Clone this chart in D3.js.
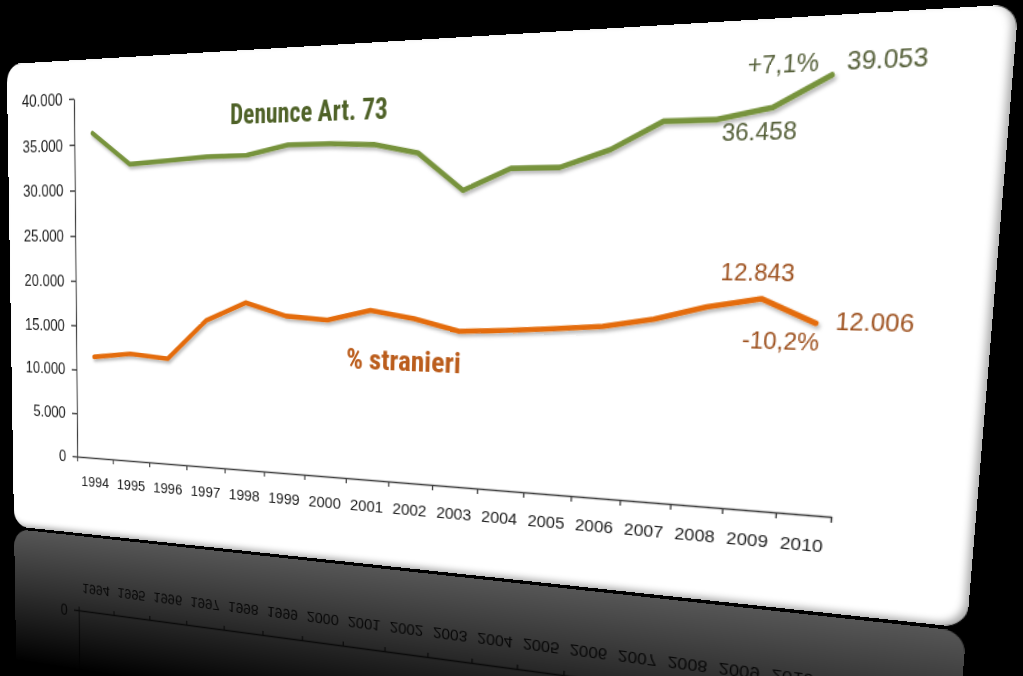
<!DOCTYPE html>
<html><head><meta charset="utf-8">
<script src="https://cdn.jsdelivr.net/npm/d3@7"></script>
<style>
html,body{margin:0;padding:0;background:#000;width:1023px;height:676px;overflow:hidden;}
.card{position:absolute;left:0;top:0;width:942px;height:475px;transform-origin:0 0;background:#fff;border-radius:18px;overflow:hidden;}
.main{box-shadow:inset -4px -3px 6px -1px rgba(0,0,0,0.35);}
svg{position:absolute;left:0;top:0;overflow:visible;}
</style></head><body>
<script>
// ---- data ----
const years = ["1994","1995","1996","1997","1998","1999","2000","2001","2002","2003","2004","2005","2006","2007","2008","2009","2010"];
const denunce = [36200,32750,33050,33350,33400,34350,34350,34150,33200,29500,31550,31550,33100,35550,35550,36458,39053];
const stranieri = [11520,12030,11670,15990,18010,16720,16420,17550,16810,15690,15920,16230,16590,17400,18670,19500,17420];
const yTickValues = [0,5000,10000,15000,20000,25000,30000,35000,40000];
const seriesNames = ["Denunce Art. 73","% stranieri"];
const greenNotes = ["+7,1%","39.053","36.458"];
const orangeNotes = ["12.843","12.006","-10,2%"];

// ---- layout (flat card) ----
const CW=942, CH=475, PL=83, PT=37, PW=750, PH=358;
// image positions of the plot corners (origin, x-end, top-right, y-top)
const quad={o:[77.3,456.5], r:[831,516.7], tr:[862,62.5], t:[74,98.7]};

function homography(q){
  const [x0,y0]=q.o,[x1,y1]=q.r,[x2,y2]=q.tr,[x3,y3]=q.t;
  const dx1=x1-x2,dx2=x3-x2,dx3=x0-x1+x2-x3,dy1=y1-y2,dy2=y3-y2,dy3=y0-y1+y2-y3;
  const den=dx1*dy2-dx2*dy1;
  const G=(dx3*dy2-dx2*dy3)/den, H=(dx1*dy3-dx3*dy1)/den;
  return [[x1-x0+G*x1, x3-x0+H*x3, x0],[y1-y0+G*y1, y3-y0+H*y3, y0],[G,H,1]];
}
function mul(a,b){const r=[[0,0,0],[0,0,0],[0,0,0]];for(let i=0;i<3;i++)for(let j=0;j<3;j++)for(let k=0;k<3;k++)r[i][j]+=a[i][k]*b[k][j];return r;}
function css(m){return `matrix3d(${m[0][0]},${m[1][0]},0,${m[2][0]},${m[0][1]},${m[1][1]},0,${m[2][1]},0,0,1,0,${m[0][2]},${m[1][2]},0,${m[2][2]})`;}
const S=[[1/PW,0,-PL/PW],[0,-1/PH,(PT+PH)/PH],[0,0,1]];
const M=mul(homography(quad),S);
const Mirror=[[1,0,0],[0,-1,2*CH+3],[0,0,1]];
const MR=mul(M,Mirror);

const fmt=d3.formatLocale({decimal:",",thousands:".",grouping:[3],currency:["","€"]}).format(",d");
const x=d3.scaleBand().domain(years).range([0,PW]);
const xb=d3.scaleLinear().domain([0,years.length]).range([0,PW]);
const y=d3.scaleLinear().domain([0,40000]).range([PH,0]);
const line=d3.line().x((d,i)=>x(years[i])+x.bandwidth()/2).y(d=>y(d));

function draw(div,id,reflect){
  const svg=div.append("svg").attr("width",CW).attr("height",CH);
  const defs=svg.append("defs");
  const f=defs.append("filter").attr("id",id+"sh").attr("x","-5%").attr("y","-20%").attr("width","110%").attr("height","140%");
  f.append("feDropShadow").attr("dx",1.5).attr("dy",2.5).attr("stdDeviation",1.6).attr("flood-color","#000").attr("flood-opacity",0.28);
  const g=svg.append("g").attr("transform",`translate(${PL},${PT})`);

  const ya=g.append("g").call(d3.axisLeft(y).tickValues(reflect?[0]:yTickValues).tickFormat(fmt).tickSize(6).tickPadding(8).tickSizeOuter(0));
  ya.select(".domain").attr("stroke","#404040").attr("stroke-width",1.3);
  ya.selectAll(".tick line").attr("stroke","#404040").attr("stroke-width",1.3);
  ya.selectAll("text").attr("font-family","'Liberation Sans',Arial,sans-serif").attr("font-size",16.5).attr("fill","#1e1e1e");

  const xa=g.append("g").attr("transform",`translate(0,${PH})`).call(d3.axisBottom(x).tickSize(0).tickPadding(19));
  xa.select(".domain").remove();
  xa.selectAll("text").attr("font-family","'Liberation Sans',Arial,sans-serif").attr("font-size",15.5).attr("fill","#1e1e1e");
  const xt=g.append("g").attr("transform",`translate(0,${PH})`).call(d3.axisBottom(xb).tickValues(d3.range(0,years.length+1)).tickFormat("").tickSize(5).tickSizeOuter(0));
  xt.select(".domain").attr("stroke","#404040").attr("stroke-width",1.3);
  xt.selectAll(".tick line").attr("stroke","#404040").attr("stroke-width",1.3);

  g.append("path").datum(denunce).attr("d",line).attr("fill","none").attr("stroke","#77933c").attr("stroke-width",4.6)
    .attr("stroke-linejoin","round").attr("stroke-linecap","round").attr("filter",`url(#${id}sh)`);
  g.append("path").datum(stranieri).attr("d",line).attr("fill","none").attr("stroke","#e46c0a").attr("stroke-width",4.6)
    .attr("stroke-linejoin","round").attr("stroke-linecap","round").attr("filter",`url(#${id}sh)`);

  if(!reflect){
    const head="'Liberation Sans Narrow','Roboto Condensed','Arial Narrow','Liberation Sans',sans-serif";
    g.append("text").attr("x",262).attr("y",30.5).attr("text-anchor","middle").attr("font-family",head).attr("font-weight","bold")
      .attr("font-size",25.5).attr("fill","#4f6228").attr("textLength",164).attr("lengthAdjust","spacingAndGlyphs").text(seriesNames[0]);
    g.append("text").attr("x",364.4).attr("y",255.2).attr("text-anchor","middle").attr("font-family",head).attr("font-weight","bold")
      .attr("font-size",25.5).attr("fill","#bb5d1c").attr("textLength",115).attr("lengthAdjust","spacingAndGlyphs").text(seriesNames[1]);

    const num="'Liberation Sans',Arial,sans-serif";
    const gpos=[[689.8,5],[768.7,5],[674,56.8]];
    greenNotes.forEach((t,i)=>g.append("text").attr("x",gpos[i][0]).attr("y",gpos[i][1]).attr("text-anchor","middle")
      .attr("font-family",num).attr("font-size",19.5).attr("fill","#56603a").text(t));
    const opos=[[679.4,169.3],[773,206.9],[700.8,223.8]];
    orangeNotes.forEach((t,i)=>g.append("text").attr("x",opos[i][0]).attr("y",opos[i][1]).attr("text-anchor","middle")
      .attr("font-family",num).attr("font-size",19.5).attr("fill","#9e5220").text(t));
  } else {
    const lg=defs.append("linearGradient").attr("id",id+"fade").attr("gradientUnits","userSpaceOnUse")
      .attr("x1",0).attr("y1",0).attr("x2",0).attr("y2",CH);
    lg.append("stop").attr("offset",0).attr("stop-color","#000").attr("stop-opacity",1);
    lg.append("stop").attr("offset",0.70).attr("stop-color","#000").attr("stop-opacity",1);
    lg.append("stop").attr("offset",1).attr("stop-color","#000").attr("stop-opacity",0);
    svg.append("rect").attr("x",0).attr("y",0).attr("width",CW).attr("height",CH).attr("fill",`url(#${id}fade)`);
  }
}

const body=d3.select("body");
const refl=body.append("div").attr("class","card").style("transform",css(MR)).style("opacity",0.34);
draw(refl,"r",true);
const card=body.append("div").attr("class","card main").style("transform",css(M));
draw(card,"m",false);
</script>
</body></html>
